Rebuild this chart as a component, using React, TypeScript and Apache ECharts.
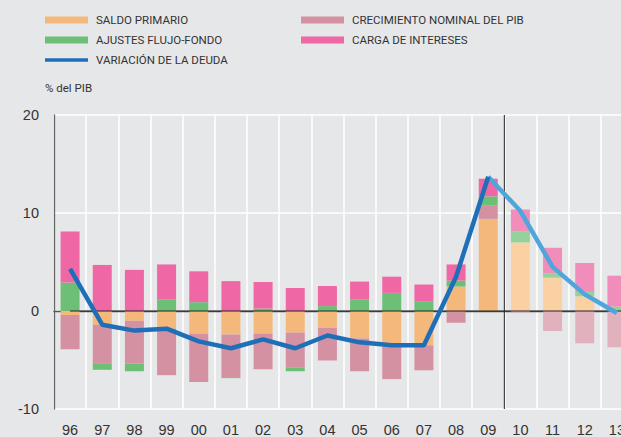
import React, { useEffect, useRef } from "react";
import * as echarts from "echarts";

const years = ["96","97","98","99","00","01","02","03","04","05","06","07","08","09","10","11","12","13"];
const saldoPrimario = [-0.4,-1.4,-1.0,-1.8,-2.3,-2.4,-2.3,-2.2,-1.7,-2.8,-3.6,-3.5,2.5,9.4,7.0,3.4,1.5,0.0];
const crecimientoNominal = [-3.5,-4.0,-4.35,-4.75,-4.95,-4.35,-3.65,-3.55,-3.35,-3.35,-3.35,-2.55,-1.2,1.4,-0.15,-2.05,-3.3,-3.7];
const ajustesFlujo = [2.9,-0.6,-0.8,1.2,0.9,-0.1,0.25,-0.4,0.5,1.2,1.85,1.0,0.6,0.9,1.1,0.45,0.45,0.45];
const cargaIntereses = [5.2,4.7,4.2,3.55,3.15,3.05,2.7,2.35,2.05,1.8,1.65,1.7,1.65,1.8,2.25,2.6,2.95,3.15];
const variacionDeuda = [4.3,-1.4,-2.0,-1.8,-3.1,-3.8,-2.9,-3.8,-2.5,-3.2,-3.5,-3.5,3.5,13.7,10.2,4.5,1.7,-0.2];
const firstProjection = 14; // index of "10"
const yTicks = { min: -10, max: 20, interval: 10 };

const NAMES = {
  saldo: "SALDO PRIMARIO",
  ajustes: "AJUSTES FLUJO-FONDO",
  deuda: "VARIACIÓN DE LA DEUDA",
  crec: "CRECIMIENTO NOMINAL DEL PIB",
  int: "CARGA DE INTERESES",
};

const COLORS = {
  saldo: ["#f5b87b", "#fbd1a4"],
  crec: ["#d491a2", "#e2b1be"],
  ajustes: ["#6dbf76", "#94d19b"],
  int: ["#ef67a4", "#f08dbb"],
};

const narrowFont = "Roboto, 'Liberation Sans', Arial, sans-serif";
const regFont = "'Liberation Sans', Arial, sans-serif";

function barData(values: number[], colors: string[]) {
  return values.map((v, i) => ({
    value: v,
    itemStyle: { color: i >= firstProjection ? colors[1] : colors[0] },
  }));
}

export default function App() {
  const ref = useRef<HTMLDivElement>(null);
  useEffect(() => {
    if (!ref.current) return;
    const chart = echarts.init(ref.current, undefined, { renderer: "svg" });
    const n = years.length;
    const darkLine = variacionDeuda.map((v, i) => (i <= 13 ? v : null));
    const lightLine = variacionDeuda.map((v, i) => (i >= 13 ? v : null));
    const barCommon = { type: "bar", stack: "total", barWidth: 19, xAxisIndex: 0 };
    const legendText = { fontFamily: narrowFont, fontSize: 11.5, color: "#333", lineHeight: 14, padding: [0, 0, 0, 3] };
    chart.setOption({
      animation: false,
      backgroundColor: "#e6e7e8",
      title: {
        text: "% del PIB",
        left: 45,
        top: 82,
        padding: 0,
        textStyle: { fontFamily: narrowFont, fontSize: 11.5, fontWeight: "normal", color: "#333" },
      },
      legend: [
        {
          orient: "vertical",
          left: 45,
          top: 13,
          padding: 0,
          itemWidth: 43,
          itemHeight: 7,
          itemGap: 6,
          symbolKeepAspect: true,
          textStyle: legendText,
          data: [
            { name: NAMES.saldo, icon: "rect" },
            { name: NAMES.ajustes, icon: "rect" },
            { name: NAMES.deuda, icon: "path://M0,0 L43,0 L43,3.5 L0,3.5 Z", itemStyle: { color: "#1f6fb8" } },
          ],
          selectedMode: false,
        },
        {
          orient: "vertical",
          left: 301,
          top: 13,
          padding: 0,
          itemWidth: 43,
          itemHeight: 7,
          itemGap: 6,
          textStyle: legendText,
          data: [
            { name: NAMES.crec, icon: "rect" },
            { name: NAMES.int, icon: "rect" },
          ],
          selectedMode: false,
        },
      ],
      grid: { left: 54, right: 0, top: 115, bottom: 28, containLabel: false },
      xAxis: [
        {
          type: "category",
          data: years,
          boundaryGap: true,
          axisLine: { show: true, lineStyle: { color: "#555", width: 1.3 } },
          axisTick: { show: false },
          axisLabel: { fontFamily: regFont, fontSize: 14.5, color: "#333", margin: 13, interval: 0 },
          splitLine: { show: true, lineStyle: { color: "#ffffff", width: 1.5 } },
        },
        {
          type: "value",
          min: 0,
          max: n,
          show: false,
          splitLine: { show: false },
        },
      ],
      yAxis: {
        type: "value",
        min: yTicks.min,
        max: yTicks.max,
        interval: yTicks.interval,
        axisLine: { show: true, lineStyle: { color: "#666", width: 1.3 } },
        axisTick: { show: false },
        axisLabel: { fontFamily: regFont, fontSize: 14.5, color: "#333", margin: 15 },
        splitLine: { show: true, lineStyle: { color: "#ffffff", width: 1.5 } },
      },
      series: [
        { ...barCommon, name: NAMES.saldo, itemStyle: { color: COLORS.saldo[0] }, data: barData(saldoPrimario, COLORS.saldo) },
        { ...barCommon, name: NAMES.crec, itemStyle: { color: COLORS.crec[0] }, data: barData(crecimientoNominal, COLORS.crec) },
        { ...barCommon, name: NAMES.ajustes, itemStyle: { color: COLORS.ajustes[0] }, data: barData(ajustesFlujo, COLORS.ajustes) },
        { ...barCommon, name: NAMES.int, itemStyle: { color: COLORS.int[0] }, data: barData(cargaIntereses, COLORS.int) },
        {
          type: "line",
          name: "zero",
          xAxisIndex: 1,
          silent: true,
          symbol: "none",
          lineStyle: { color: "#222", width: 1 },
          data: [[0.5, 0], [n, 0]],
        },
        {
          type: "line",
          name: "split",
          xAxisIndex: 1,
          silent: true,
          symbol: "none",
          lineStyle: { color: "#222", width: 1 },
          data: [[firstProjection, yTicks.min], [firstProjection, yTicks.max]],
        },
        {
          type: "line",
          name: "proyección",
          xAxisIndex: 0,
          symbol: "none",
          lineStyle: { color: "#4ea6dc", width: 4.5 },
          itemStyle: { color: "#4ea6dc" },
          data: lightLine,
        },
        {
          type: "line",
          name: NAMES.deuda,
          xAxisIndex: 0,
          symbol: "none",
          lineStyle: { color: "#1f6fb8", width: 4.5 },
          itemStyle: { color: "#1f6fb8" },
          data: darkLine,
        },
      ],
    });
    return () => chart.dispose();
  }, []);
  return (
    <div
      ref={ref}
      style={{ position: "fixed", left: 0, top: 0, width: 633, height: 437 }}
    />
  );
}
